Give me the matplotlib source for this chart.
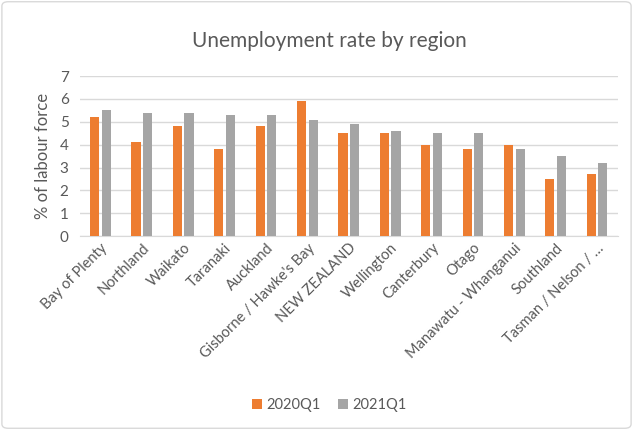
import matplotlib
matplotlib.use("Agg")
import matplotlib.pyplot as plt
import numpy as np
from matplotlib.patches import FancyBboxPatch

plt.rcParams['font.family'] = ['Lato', 'DejaVu Sans']

regions = ["Bay of Plenty", "Northland", "Waikato", "Taranaki", "Auckland",
           "Gisborne / Hawke's Bay", "NEW ZEALAND", "Wellington", "Canterbury",
           "Otago", "Manawatu - Whanganui", "Southland", "Tasman / Nelson / \u2026"]
q2020 = [5.2, 4.1, 4.8, 3.8, 4.8, 5.9, 4.5, 4.5, 4.0, 3.8, 4.0, 2.5, 2.7]
q2021 = [5.5, 5.4, 5.4, 5.3, 5.3, 5.1, 4.9, 4.6, 4.5, 4.5, 3.8, 3.5, 3.2]
series_names = ["2020Q1", "2021Q1"]
yticks = [0, 1, 2, 3, 4, 5, 6, 7]

txt = "#595959"
fig = plt.figure(figsize=(6.33, 4.3), dpi=100)
ax = fig.add_axes([0.126, 0.451, 0.85, 0.372])

x = np.arange(len(regions))
w = 0.22
ax.bar(x - 0.14, q2020, w, color="#ED7D31", label=series_names[0], zorder=3)
ax.bar(x + 0.14, q2021, w, color="#A5A5A5", label=series_names[1], zorder=3)

ax.set_xlim(-0.5, len(regions) - 0.5)
ax.set_ylim(0, 7)
ax.set_yticks(yticks)
ax.yaxis.grid(True, color="#D9D9D9", linewidth=1, zorder=0)
for s in ["top", "right", "left"]:
    ax.spines[s].set_visible(False)
ax.spines["bottom"].set_color("#D9D9D9")
ax.tick_params(axis="both", length=0, colors=txt, labelsize=10.5)
ax.tick_params(axis="y", labelsize=11, pad=8)
ax.set_xticks(x)
ax.set_xticklabels(regions, rotation=45, ha="right", rotation_mode="anchor")
ax.set_ylabel("% of labour force", color=txt, fontsize=12, labelpad=6)

fig.text(0.52, 0.905, "Unemployment rate by region", ha="center", va="center",
         fontsize=15, color=txt)
fig.legend(loc="center", bbox_to_anchor=(0.52, 0.057), ncol=2, frameon=False,
           fontsize=10.5, handlelength=0.7, handleheight=0.7, columnspacing=1.2,
           handletextpad=0.3, labelcolor=txt)

border = FancyBboxPatch((0.003, 0.004), 0.994, 0.992, boxstyle="round,pad=0,rounding_size=0.01",
                        transform=fig.transFigure, fill=False, edgecolor="#D9D9D9", linewidth=1)
fig.patches.append(border)

fig.savefig("out.png", dpi=100)
